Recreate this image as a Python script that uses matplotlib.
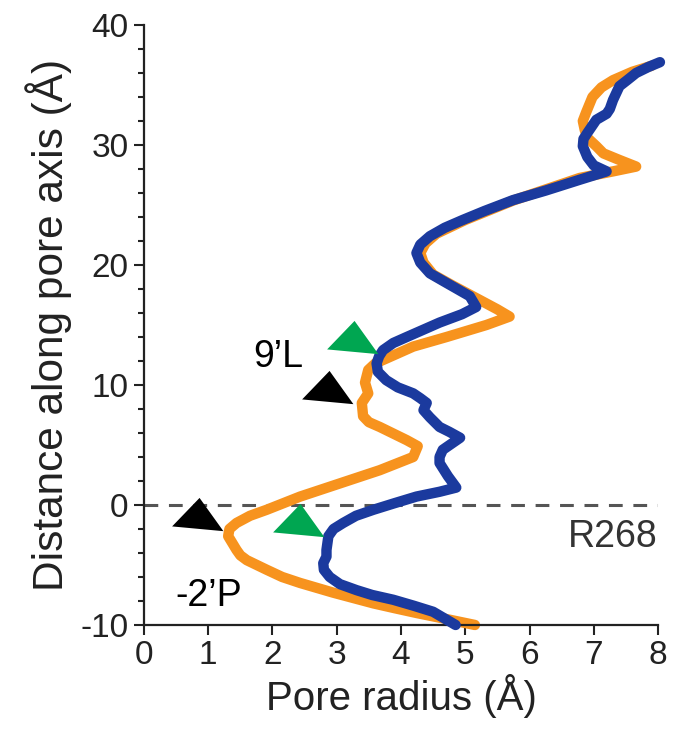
import numpy as np
import matplotlib
matplotlib.use('Agg')
import matplotlib.pyplot as plt
from matplotlib.ticker import MultipleLocator


########################################################################################################################
# data (pore radius in A, distance along pore axis in A)
########################################################################################################################
blue_r = [4.85, 4.5, 4.2, 3.88, 3.55, 3.31, 3.05, 2.89, 2.8, 2.79, 2.84, 2.84, 2.87, 2.95, 3.1, 3.3, 3.57, 3.9,
          4.24, 4.6, 4.86, 4.73, 4.6, 4.6, 4.65, 4.92, 4.75, 4.6, 4.45, 4.35, 4.4, 4.3, 4.19, 3.95, 3.77, 3.64,
          3.62, 3.66, 3.72, 3.88, 4.09, 4.6, 4.95, 5.17, 5.07, 4.71, 4.45, 4.3, 4.24, 4.3, 4.45, 4.68, 4.96, 5.3,
          5.74, 6.25, 6.78, 7.2, 7.0, 6.9, 6.83, 6.84, 6.9, 7.04, 7.2, 7.25, 7.3, 7.4, 7.52, 7.66, 7.85, 8.03]
blue_z = [-10, -8.9, -8.4, -7.9, -7.5, -7.1, -6.6, -6.0, -5.4, -4.85, -4.3, -3.75, -2.6, -2.0, -1.5, -0.9, -0.4,
          0.15, 0.7, 1.1, 1.45, 2.4, 3.5, 4.0, 4.6, 5.6, 6.1, 6.5, 7.3, 7.9, 8.5, 8.9, 9.3, 9.8, 10.4, 11.1,
          11.8, 12.4, 12.9, 13.5, 14.0, 15.2, 15.9, 16.5, 17.4, 18.5, 19.3, 20.2, 21.0, 21.7, 22.4, 23.1, 23.75,
          24.5, 25.4, 26.2, 27.1, 27.8, 28.3, 29.0, 29.9, 30.5, 31.0, 32.1, 32.6, 33.0, 33.75, 34.9, 35.4, 36.0,
          36.5, 36.9]

orange_r = [5.15, 4.7, 4.24, 3.9, 3.57, 2.94, 2.43, 2.15, 1.91, 1.6, 1.5, 1.44, 1.31, 1.33, 1.44, 1.65, 1.91,
            2.43, 3.05, 3.67, 4.19, 4.26, 4.09, 3.67, 3.5, 3.41, 3.39, 3.49, 3.44, 3.49, 3.6, 3.77, 4.19, 4.71,
            5.33, 5.69, 5.5, 5.22, 4.8, 4.5, 4.35, 4.3, 4.38, 4.55, 5.0, 5.76, 6.78, 7.3, 7.66, 7.4, 7.15, 7.04,
            6.9, 6.86, 6.83, 6.88, 6.98, 7.12, 7.3, 7.6, 7.9]
orange_z = [-10, -9.5, -9.0, -8.6, -8.2, -7.3, -6.5, -6.0, -5.4, -4.6, -4.2, -3.75, -2.6, -2.0, -1.5, -0.9, -0.4,
            0.7, 1.8, 2.9, 4.0, 4.9, 5.4, 6.5, 6.9, 7.4, 8.5, 9.3, 10.2, 11.25, 11.8, 12.2, 13.2, 14.0, 15.0,
            15.7, 16.3, 17.1, 18.3, 19.2, 20.2, 21.0, 21.8, 22.6, 23.75, 25.4, 27.25, 27.8, 28.2, 28.75, 29.3,
            29.9, 30.6, 31.25, 32.0, 32.7, 34.0, 34.8, 35.4, 36.1, 36.6]

green_r = [3.25, 2.41]
green_z = [13.7, -1.56]
black_r = [2.86, 0.845]
black_z = [9.5, -1.05]

labels = ["9\u2019L", "-2\u2019P", "R268"]
label_r = [2.48, 1.52, 8.0]
label_z = [12.3, -7.6, -2.7]

x_ticks = np.arange(0, 9, 1)
y_ticks = np.arange(-10, 41, 10)

########################################################################################################################
plt.rcParams['font.family'] = ['Liberation Sans', 'DejaVu Sans']
plt.rcParams['axes.unicode_minus'] = False

fig = plt.figure(figsize=(6.88, 7.39), dpi=100)
ax = fig.add_axes([0.2093, 0.1543, 0.7471, 0.8119])

ax.axhline(0, color='#555555', lw=2.2, dashes=(4.5, 3.5), zorder=1)

ax.plot(orange_r, orange_z, color='#F7931E', lw=7.5, solid_capstyle='round', solid_joinstyle='round',
        clip_on=False, zorder=2)
ax.plot(blue_r, blue_z, color='#1B3A9E', lw=7.5, solid_capstyle='round', solid_joinstyle='round',
        clip_on=False, zorder=3)

# slightly tilted triangle arrowheads
tri = [(1.0, 19.5), (-25.0, -7.5), (23.6, -12.0), (1.0, 19.5)]
ax.plot(green_r, green_z, ls='none', marker=tri, ms=38, color='#00A651', mec='none', zorder=4, clip_on=False)
ax.plot(black_r, black_z, ls='none', marker=tri, ms=38, color='black', mec='none', zorder=4, clip_on=False)

ax.text(label_r[0], label_z[0], labels[0], fontsize=27, ha='right', va='center')
ax.text(label_r[1], label_z[1], labels[1], fontsize=27, ha='right', va='center')
ax.text(label_r[2], label_z[2], labels[2], fontsize=27, ha='right', va='center', color='#333333')

ax.set_xlim(0, 8)
ax.set_ylim(-10, 40)
ax.set_xticks(x_ticks)
ax.set_yticks(y_ticks)
ax.yaxis.set_minor_locator(MultipleLocator(2))

for side in ['top', 'right']:
    ax.spines[side].set_visible(False)
for side in ['left', 'bottom']:
    ax.spines[side].set_linewidth(1.6)
    ax.spines[side].set_color('#222222')

ax.tick_params(axis='both', which='major', direction='out', length=7, width=1.5, labelsize=24, pad=4,
               color='#222222', labelcolor='#222222')
ax.tick_params(axis='y', which='minor', direction='out', length=4.5, width=1.5, color='#222222')

ax.set_xlabel("Pore radius (\u00c5)", fontsize=29, color='#222222', labelpad=2)
ax.set_ylabel("Distance along pore axis (\u00c5)", fontsize=30.5, color='#222222', labelpad=6)

fig.savefig('out.png', dpi=100)
